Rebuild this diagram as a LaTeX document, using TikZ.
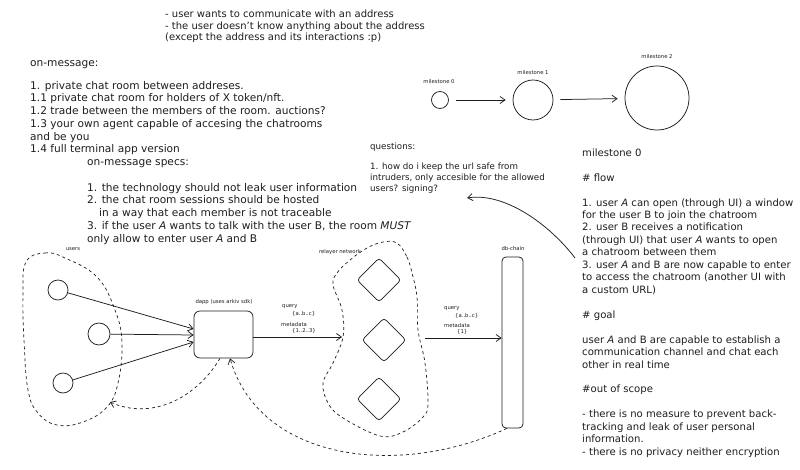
\documentclass[tikz,border=0pt]{standalone}
\usepackage{fontspec}
\setmainfont{DejaVu Sans}
\usetikzlibrary{arrows.meta,shapes.geometric,calc}
\definecolor{ink}{HTML}{1E1E1E}
\tikzset{
  ln/.style={draw=ink, line width=0.75pt},
  arr/.style={ln, -{Straight Barb[length=5pt,width=7pt]}},
  dsh/.style={draw=ink, line width=0.7pt, dash pattern=on 3pt off 3pt},
  dsharr/.style={dsh, -{Straight Barb[length=5pt,width=7pt]}},
  body/.style={anchor=north west, inner sep=0pt, align=left, text=ink, font=\fontsize{10.6}{12.75}\selectfont},
  tiny/.style={inner sep=0pt, text=ink, font=\fontsize{5.3}{7}\selectfont},
  tinyw/.style={tiny, anchor=west},
  ucirc/.style={circle, ln, inner sep=0pt},
  dia/.style={diamond, ln, minimum width=44pt, minimum height=44pt, inner sep=0pt, rounded corners=3pt},
  boxr/.style={ln, inner sep=0pt},
}
\begin{document}
\begin{tikzpicture}[x=1pt,y=-1pt]
\useasboundingbox (0,0) rectangle (800,470);
\fill[white] (0,0) rectangle (800,470);

% ---------- texts ----------
\node[body, font=\fontsize{10}{11.5}\selectfont] (intro) at (165,9.6)
 {\strut- user wants to communicate with an address\\
  - the user doesn't know anything about the address\\
  (except the address and its interactions :p)};

\node[body] (onmsg) at (30,56.9) {\strut on-message:};

\node[body] (list) at (30,79.9)
 {\strut 1. private chat room between addreses.\\
  1.1 private chat room for holders of X token/nft.\\
  1.2 trade between the members of the room. auctions?\\
  1.3 your own agent capable of accesing the chatrooms\\
  and be you\\
  1.4 full terminal app version\\
  \hspace*{57pt}on-message specs:\\[12.75pt]
  \hspace*{57pt}1. the technology should not leak user information\\
  \hspace*{57pt}2. the chat room sessions should be hosted\\
  \hspace*{69pt}in a way that each member is not traceable\\
  \hspace*{57pt}3. if the user \textit{A} wants to talk with the user B, the room \textit{MUST}\\
  \hspace*{57pt}only allow to enter user \textit{A} and B};

\node[body, font=\fontsize{8.7}{11}\selectfont] (quest) at (370,142)
 {\strut questions:\\[9pt]
  1. how do i keep the url safe from\\
  intruders, only accesible for the allowed\\
  users? signing?};

\node[body, font=\fontsize{10.1}{12.46}\selectfont] (spec) at (582,147.3)
 {\strut milestone 0\\[12.46pt]
  \# flow\\[12.46pt]
  1. user \textit{A} can open (through UI) a window\\
  for the user B to join the chatroom\\
  2. user B receives a notification\\
  (through UI) that user \textit{A} wants to open\\
  a chatroom between them\\
  3. user \textit{A} and B are now capable to enter\\
  to access the chatroom (another UI with\\
  a custom URL)\\[12.46pt]
  \# goal\\[12.46pt]
  user \textit{A} and B are capable to establish a\\
  communication channel and chat each\\
  other in real time\\[12.46pt]
  \#out of scope\\[12.46pt]
  - there is no measure to prevent back-\\
  tracking and leak of user personal\\
  information.\\
  - there is no privacy neither encryption};

% ---------- milestones ----------
\node[ucirc, minimum size=17pt] (m0) at (440,100) {};
\node[ucirc, minimum size=40pt] (m1) at (533,100) {};
\node[ucirc, minimum size=64pt] (m2) at (657,98) {};
\node[tiny] (m0l) at (439,82) {milestone 0};
\node[tiny] (m1l) at (533,73) {milestone 1};
\node[tiny] (m2l) at (657,57) {milestone 2};
\draw[arr, shorten <=7pt, shorten >=7pt] (m0) -- (m1);
\draw[arr, shorten <=7pt, shorten >=7pt] (m1) -- (m2);

% question arrow
\coordinate (qa) at (575,258);
\coordinate (qb) at (467,198);
\draw[arr] (qa) .. controls (550,225) and (505,192) .. (qb);

% ---------- users ----------
\draw[dsh] plot[smooth cycle, tension=0.7] coordinates {(26,262) (45,253) (65,258) (97,277) (115,310) (122,343) (118,383) (107,407) (83,422) (57,425) (38,413) (28,390) (24,340) (23,295)};
\node[tiny] (usersl) at (73,249) {users};
\coordinate (usersEdge) at (110,402);
\node[ucirc, minimum size=20pt] (u1) at (58,290) {};
\node[ucirc, minimum size=22pt] (u2) at (99,334) {};
\node[ucirc, minimum size=20pt] (u3) at (63,383) {};

% ---------- dapp ----------
\node[boxr, rounded corners=6pt, minimum width=59pt, minimum height=47pt] (dapp) at (223.5,334.5) {};
\node[tiny] (dappl) at (224,302) {dapp (uses arkiv sdk)};
\draw[arr] (u1) -- ([yshift=5.5pt]dapp.west);
\draw[arr] (u2) -- ([yshift=-0.5pt]dapp.west);
\draw[arr] (u3) -- ([yshift=-7.5pt]dapp.west);

% ---------- relayer ----------
\draw[dsh] plot[smooth cycle, tension=0.6] coordinates {(397,243) (407,257) (412,273) (417,297) (418,330) (425,363) (428,403) (423,417) (403,432) (380,436) (343,418) (328,403) (323,383) (333,363) (343,337) (342,310) (333,285) (337,273) (350,260) (367,248) (383,242)};
\node[tiny] (rell) at (340,252) {relayer network};
\node[dia] (d1) at (379,280) {};
\node[dia] (d2) at (384,340) {};
\node[dia] (d3) at (379,399) {};
\coordinate (relIn) at (342,337);
\coordinate (relOut) at (425,338);

% ---------- db-chain ----------
\node[boxr, rounded corners=4pt, minimum width=21pt, minimum height=171pt] (db) at (512.5,342.5) {};
\node[tiny] (dbl) at (513,249) {db-chain};

% connectors with labels
\draw[arr] ([yshift=-2.5pt]dapp.east) -- (relIn);
\node[tinyw] (q1) at (282,307) {query};
\node[tinyw] (q1v) at (292,314) {\{a..b..c\}};
\node[tinyw] (md1) at (281,325) {metadata};
\node[tinyw] (md1v) at (292,331) {\{1..2..3\}};

\draw[arr] (relOut) -- ([yshift=4.5pt]db.west);
\node[tinyw] (q2) at (444,309) {query};
\node[tinyw] (q2v) at (455,316) {\{a..b..c\}};
\node[tinyw] (md2) at (444,326) {metadata};
\node[tinyw] (md2v) at (457,332) {\{1\}};

% dashed return paths
\draw[dsharr] ([xshift=-5.5pt]db.south) .. controls (400,478) and (260,462) .. ([xshift=6.5pt]dapp.south);
\draw[dsharr] ([xshift=-3.5pt]dapp.south) .. controls (195,400) and (150,420) .. (usersEdge);

\end{tikzpicture}
\end{document}
